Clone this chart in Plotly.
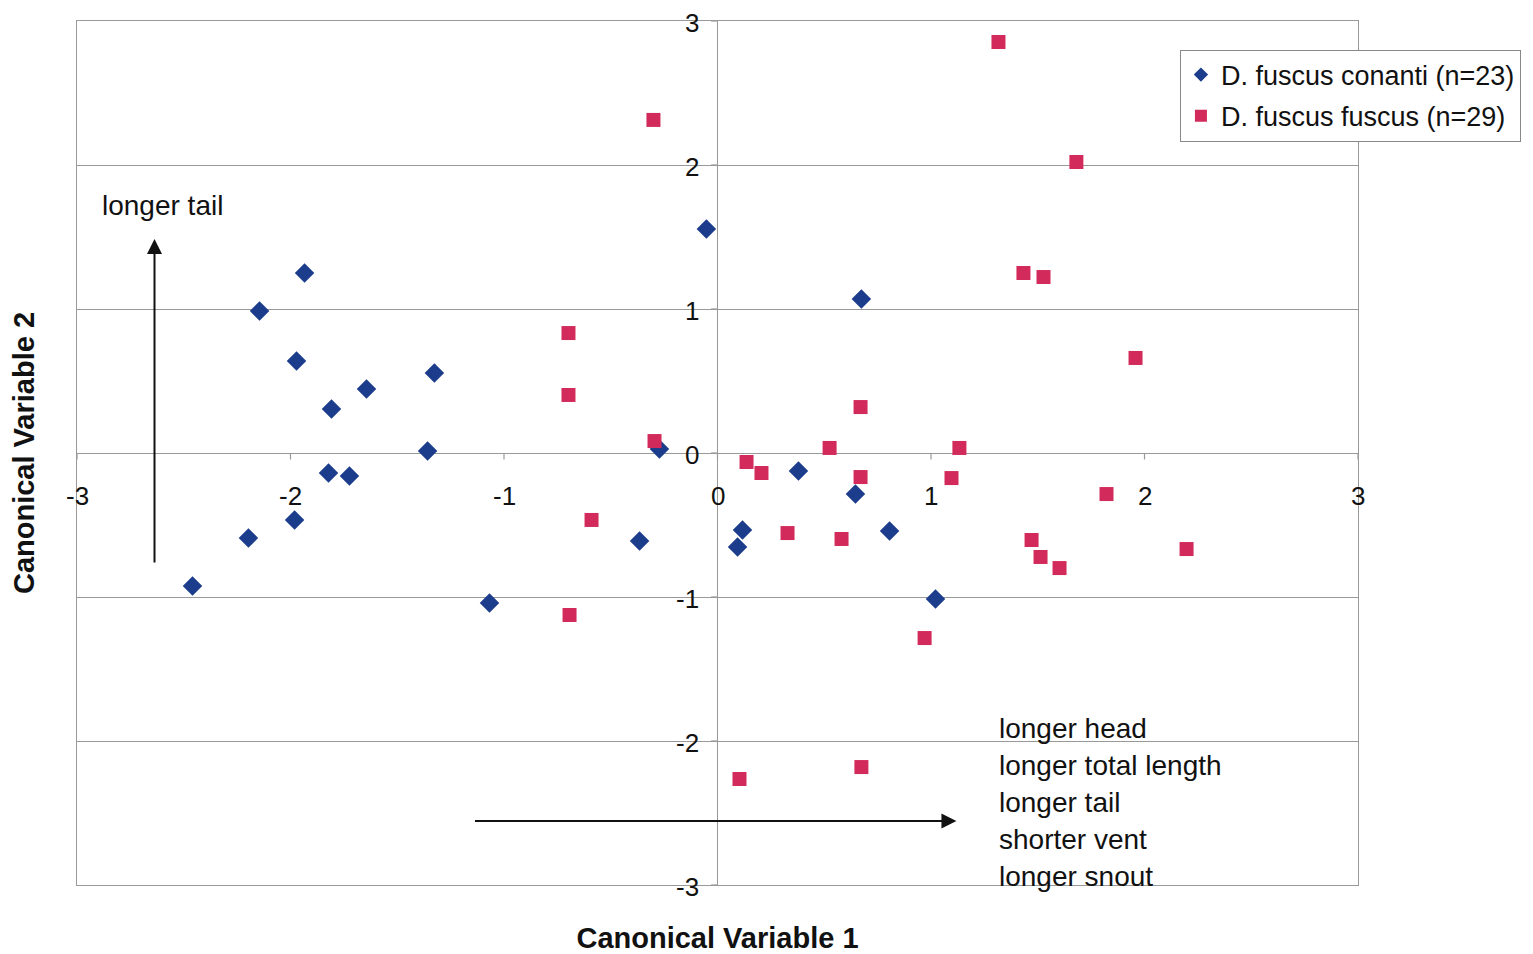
import plotly.graph_objects as go

# D. fuscus conanti (blue diamonds)
conanti_x = [-1.934, -2.145, -1.972, -1.644, -1.808, -1.326, -1.358, -1.822, -1.724, -1.981,
             -2.197, -2.459, -1.068, -0.365, -0.272, -0.052, 0.117, 0.094, 0.379, 0.646,
             0.674, 0.806, 1.021]
conanti_y = [1.25, 0.986, 0.639, 0.444, 0.306, 0.556, 0.014, -0.139, -0.160, -0.465,
             -0.590, -0.924, -1.042, -0.611, 0.028, 1.556, -0.535, -0.653, -0.125, -0.285,
             1.069, -0.542, -1.014]

# D. fuscus fuscus (red squares)
fuscus_x = [1.316, -0.300, 1.681, 1.433, 1.527, 1.958, -0.698, -0.698, -0.295, 0.670,
            0.525, 1.133, 0.136, 0.206, 0.670, 1.096, 1.822, -0.590, 0.328, 0.581,
            1.471, 1.513, 1.602, 2.197, -0.693, 0.970, 0.103, 0.674]
fuscus_y = [2.854, 2.313, 2.021, 1.25, 1.222, 0.660, 0.833, 0.403, 0.083, 0.319,
            0.035, 0.035, -0.0625, -0.139, -0.167, -0.174, -0.285, -0.465, -0.556, -0.597,
            -0.604, -0.722, -0.799, -0.667, -1.125, -1.285, -2.264, -2.181]

x_ticks = [-3, -2, -1, 0, 1, 2, 3]
y_ticks = [-3, -2, -1, 0, 1, 2, 3]
right_labels = ["longer head", "longer total length", "longer tail", "shorter vent", "longer snout"]

FONT = "Liberation Sans, Arial, sans-serif"
GRID = "#999999"
BLUE = "#1C3C8C"
RED = "#D22A5A"

fig = go.Figure()
fig.add_trace(go.Scatter(x=conanti_x, y=conanti_y, mode="markers", showlegend=False,
                         marker=dict(symbol="diamond", size=15, color=BLUE)))
fig.add_trace(go.Scatter(x=fuscus_x, y=fuscus_y, mode="markers", showlegend=False,
                         marker=dict(symbol="square", size=14, color=RED)))
# legend entries (smaller markers as in the original)
fig.add_trace(go.Scatter(x=[None], y=[None], mode="markers", name="D. fuscus conanti (n=23)",
                         legendgroup="a",
                         marker=dict(symbol="diamond", size=11, color=BLUE)))
fig.add_trace(go.Scatter(x=[None], y=[None], mode="markers", name="D. fuscus fuscus (n=29)",
                         legendgroup="b",
                         marker=dict(symbol="square", size=12, color=RED)))

annotations = []
shapes = []
for t in x_ticks:
    annotations.append(dict(x=t, y=0, xref="x", yref="y", text=str(t), showarrow=False,
                            xanchor="center", yanchor="middle", yshift=-43,
                            font=dict(size=26, color="#111", family=FONT)))
    shapes.append(dict(type="line", xref="x", yref="y", x0=t, x1=t, y0=0, y1=-0.045,
                       line=dict(color=GRID, width=1.2)))
for t in y_ticks:
    annotations.append(dict(x=0, y=t, xref="x", yref="y", text=str(t), showarrow=False,
                            xanchor="right", yanchor="middle", xshift=-18, yshift=-2,
                            borderpad=0,
                            font=dict(size=26, color="#111", family=FONT)))
    shapes.append(dict(type="line", xref="x", yref="y", x0=0, x1=-0.03, y0=t, y1=t,
                       line=dict(color=GRID, width=1.2)))

# text labels and arrows
annotations.append(dict(x=-2.6, y=1.72, xref="x", yref="y", text="longer tail", showarrow=False,
                        xanchor="center", yanchor="middle",
                        font=dict(size=28, color="#111", family=FONT)))
annotations.append(dict(x=-2.637, y=1.486, ax=-2.637, ay=-0.771, xref="x", yref="y",
                        axref="x", ayref="y", text="", showarrow=True, arrowhead=2,
                        arrowsize=1.5, arrowwidth=2, arrowcolor="#111"))
annotations.append(dict(x=1.119, y=-2.556, ax=-1.143, ay=-2.556, xref="x", yref="y",
                        axref="x", ayref="y", text="", showarrow=True, arrowhead=2,
                        arrowsize=1.5, arrowwidth=2, arrowcolor="#111"))
for i, lab in enumerate(right_labels):
    annotations.append(dict(x=1.31, y=0, xref="x", yref="y", text=lab, showarrow=False,
                            xanchor="left", yanchor="middle", yshift=-275 - 37 * i,
                            font=dict(size=28, color="#111", family=FONT)))

fig.update_layout(
    width=1533, height=954,
    margin=dict(l=69, r=183, t=13, b=77),
    paper_bgcolor="white", plot_bgcolor="white",
    font=dict(family=FONT, size=24, color="#111"),
    showlegend=True,
    legend=dict(x=0.861, y=0.967, xanchor="left", yanchor="top",
                bgcolor="white", bordercolor="#888", borderwidth=1,
                font=dict(size=27, family=FONT, color="#111"),
                itemwidth=30, tracegroupgap=3),
    annotations=annotations,
    shapes=shapes,
)
fig.update_xaxes(range=[-3, 3], showgrid=False, zeroline=True, zerolinecolor=GRID,
                 zerolinewidth=1.2, showline=True, mirror=True, linecolor=GRID, linewidth=1.2,
                 showticklabels=False, ticks="",
                 title=dict(text="<b>Canonical Variable 1</b>", font=dict(size=29, family=FONT, color="#111"),
                            standoff=42))
fig.update_yaxes(range=[-3, 3], dtick=1, showgrid=True, gridcolor=GRID, gridwidth=1.2,
                 zeroline=True, zerolinecolor=GRID, zerolinewidth=1.2,
                 showline=True, mirror=True, linecolor=GRID, linewidth=1.2,
                 showticklabels=False, ticks="",
                 title=dict(text="<b>Canonical Variable 2</b>", font=dict(size=29, family=FONT, color="#111"),
                            standoff=36))

fig.write_html("out.html")
